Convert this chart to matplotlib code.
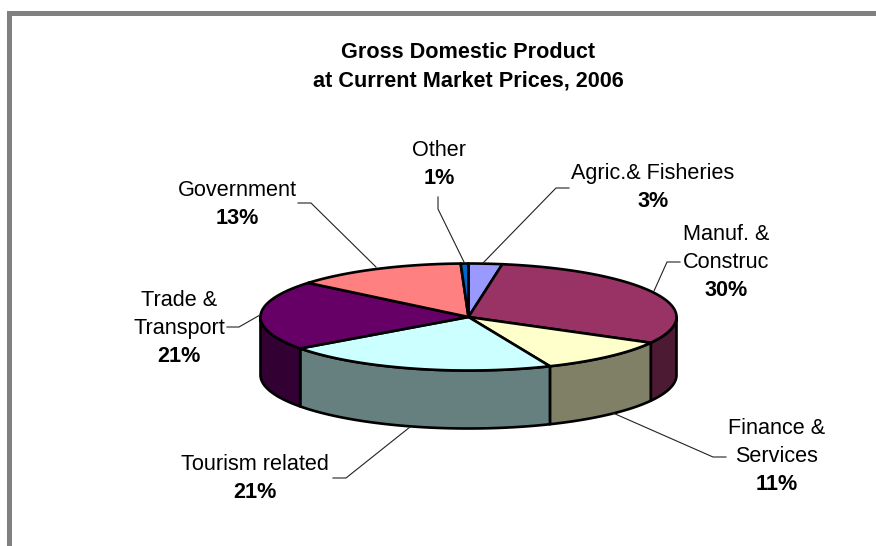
import numpy as np
import matplotlib
matplotlib.use("Agg")
import matplotlib.pyplot as plt
from matplotlib.patches import Polygon, Rectangle

plt.rcParams['font.family'] = ['Liberation Sans', 'DejaVu Sans']

# slices, clockwise from 12 o'clock
names = ['Agric.& Fisheries', 'Manuf. &\nConstruc', 'Finance &\nServices', 'Tourism related',
         'Trade &\nTransport', 'Government', 'Other']
values = [2.6, 30.4, 10.6, 21.4, 21.0, 13.4, 0.6]
pct_labels = ['3%', '30%', '11%', '21%', '21%', '13%', '1%']
top_colors = ['#9999FF', '#993366', '#FFFFCC', '#CCFFFF', '#660066', '#FF8080', '#0066CC']
title_lines = ['Gross Domestic Product', 'at Current Market Prices, 2006']

# pie geometry in pixels
cx, cy = 468.5, 317
rx, ry = 208, 53.5
depth = 58
line_step = 28.2

# centre x and first baseline of each label block, then its leader line
label_pos = [(653, 179), (726, 240), (777, 434), (255, 470), (179, 306), (237, 196), (439, 156)]
leaders = [[(569, 188), (556, 188), (483, 263)],
           [(680, 262), (667, 262), (654, 291)],
           [(726, 457), (713, 457), (613, 413)],
           [(333, 478), (346, 478), (410, 427)],
           [(227, 327), (239, 327), (260, 315)],
           [(298, 203), (311, 203), (376, 267)],
           [(438, 197), (438, 209), (464, 262)]]

fig = plt.figure(figsize=(8.76, 5.46), dpi=100)
ax = fig.add_axes([0, 0, 1, 1])
ax.set_xlim(0, 876)
ax.set_ylim(546, 0)
ax.axis('off')

# grey frame, top and left only
ax.add_patch(Rectangle((7, 11), 869, 5, fc='#808080', ec='none'))
ax.add_patch(Rectangle((7, 11), 5, 535, fc='#808080', ec='none'))


def rim(t, dy=0):
    return np.column_stack([cx + rx * np.sin(t), cy - ry * np.cos(t) + dy])


def darken(col):
    rgb = np.array(matplotlib.colors.to_rgb(col))
    return tuple(rgb * 0.5)


edges = np.cumsum([0] + values) / sum(values) * 2 * np.pi

# side walls, front half only
for i, col in enumerate(top_colors):
    t1 = max(edges[i], np.pi / 2)
    t2 = min(edges[i + 1], 3 * np.pi / 2)
    if t2 <= t1:
        continue
    t = np.linspace(t1, t2, 80)
    pts = np.vstack([rim(t), rim(t[::-1], depth)])
    ax.add_patch(Polygon(pts, closed=True, fc=darken(col), ec='black', lw=1.9, joinstyle='round'))

# top faces
for i, col in enumerate(top_colors):
    t = np.linspace(edges[i], edges[i + 1], 120)
    pts = np.vstack([[cx, cy], rim(t)])
    ax.add_patch(Polygon(pts, closed=True, fc=col, ec='black', lw=1.9, joinstyle='round'))

for line in leaders:
    xy = np.array(line)
    ax.plot(xy[:, 0], xy[:, 1], color='#222222', lw=0.8)

for i, line in enumerate(title_lines):
    ax.text(468, 58 + i * 28.5, line, ha='center', va='baseline', fontsize=15.6, fontweight='bold')

for (x, y), name, pct in zip(label_pos, names, pct_labels):
    rows = name.split('\n')
    for j, row in enumerate(rows):
        ax.text(x, y + j * line_step, row, ha='center', va='baseline', fontsize=15.6)
    ax.text(x, y + len(rows) * line_step, pct, ha='center', va='baseline', fontsize=15.6, fontweight='bold')

fig.savefig('out.png', dpi=100)
